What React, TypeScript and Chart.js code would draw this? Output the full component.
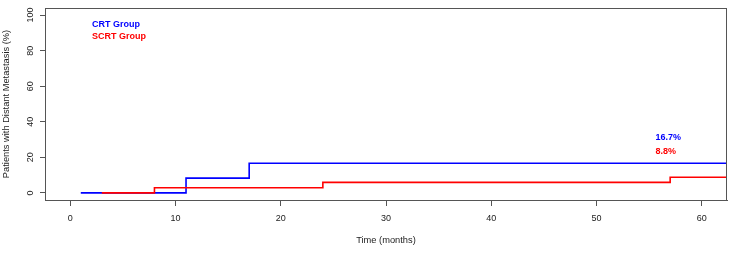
import React, { useEffect, useRef } from "react";
import { Chart, registerables } from "chart.js";

Chart.register(...registerables);

// Cumulative incidence of distant metastasis (step curves)
const crtTimes = [1, 11, 17, 70];
const crtPct = [0, 8.3, 16.7, 16.7];
const scrtTimes = [3, 8, 24, 57, 70];
const scrtPct = [0, 2.9, 5.9, 8.8, 8.8];

const seriesNames = ["CRT Group", "SCRT Group"];
const seriesColors = ["#0000ff", "#ff0000"];
const finalLabels = ["16.7%", "8.8%"];

const xTicks = [0, 10, 20, 30, 40, 50, 60];
const yTicks = [0, 20, 40, 60, 80, 100];

const FONT = "'Liberation Sans', Arial, Helvetica, sans-serif";
const AXIS = "#555555";
const TEXT = "#222222";

const toPoints = (t: number[], v: number[]) => t.map((x, i) => ({ x, y: v[i] }));

// Frame around the plotting region, legend text and end-of-curve labels
const overlay = {
  id: "overlay",
  afterDatasetsDraw(chart: any) {
    const { ctx, chartArea: a, scales } = chart;
    ctx.save();
    ctx.strokeStyle = AXIS;
    ctx.lineWidth = 1;
    ctx.strokeRect(Math.round(a.left) + 0.5, Math.round(a.top) + 0.5, Math.round(a.right - a.left) - 1, Math.round(a.bottom - a.top));

    ctx.font = `bold 9px ${FONT}`;
    ctx.textAlign = "left";
    ctx.textBaseline = "alphabetic";
    seriesNames.forEach((name, i) => {
      ctx.fillStyle = seriesColors[i];
      ctx.fillText(name, a.left + 47, a.top + 19 + i * 12);
    });

    const xl = scales.x.getPixelForValue(55.6);
    finalLabels.forEach((txt, i) => {
      ctx.fillStyle = seriesColors[i];
      ctx.fillText(txt, xl, scales.y.getPixelForValue(i === 0 ? 30 : 22.1));
    });
    ctx.restore();
  },
};

export default function App() {
  const ref = useRef<HTMLCanvasElement>(null);

  useEffect(() => {
    if (!ref.current) return;
    const chart = new Chart(ref.current, {
      type: "line",
      data: {
        datasets: [
          {
            label: seriesNames[0],
            data: toPoints(crtTimes, crtPct),
            borderColor: seriesColors[0],
            borderWidth: 1.6,
            stepped: true,
            pointRadius: 0,
            fill: false,
            order: 2,
          },
          {
            label: seriesNames[1],
            data: toPoints(scrtTimes, scrtPct),
            borderColor: seriesColors[1],
            borderWidth: 1.6,
            stepped: true,
            pointRadius: 0,
            fill: false,
            order: 1,
          },
        ],
      },
      options: {
        animation: false,
        responsive: false,
        layout: { padding: { left: 0, top: 8, right: 23, bottom: 0 } },
        plugins: { legend: { display: false }, tooltip: { enabled: false } },
        scales: {
          x: {
            type: "linear",
            min: -2.4,
            max: 62.4,
            afterBuildTicks: (s: any) => {
              s.ticks = xTicks.map((v) => ({ value: v }));
            },
            afterFit: (s: any) => {
              s.height = 57;
              s.paddingLeft = 0;
              s.paddingRight = 0;
            },
            grid: { drawOnChartArea: false, drawTicks: true, tickLength: 6, tickColor: AXIS, color: AXIS },
            border: { display: true, color: AXIS, width: 1 },
            ticks: {
              color: TEXT,
              padding: 7,
              maxRotation: 0,
              font: { family: FONT, size: 9 },
            },
            title: {
              display: true,
              text: "Time (months)",
              color: TEXT,
              font: { family: FONT, size: 9.3 },
              padding: { top: 0, bottom: 10.5 },
            },
          },
          y: {
            type: "linear",
            min: -4,
            max: 104,
            afterBuildTicks: (s: any) => {
              s.ticks = yTicks.map((v) => ({ value: v }));
            },
            afterFit: (s: any) => {
              s.width = 45;
              s.paddingTop = 0;
              s.paddingBottom = 0;
            },
            grid: { drawOnChartArea: false, drawTicks: true, tickLength: 5, tickColor: AXIS, color: AXIS },
            border: { display: true, color: AXIS, width: 1 },
            ticks: {
              color: TEXT,
              padding: 2,
              minRotation: 90,
              maxRotation: 90,
              crossAlign: "center",
              font: { family: FONT, size: 9 },
            },
            title: {
              display: true,
              text: "Patients with Distant Metastasis (%)",
              color: TEXT,
              font: { family: FONT, size: 9.3 },
              padding: { top: 1, bottom: 0 },
            },
          },
        },
      },
      plugins: [overlay],
    } as any);
    return () => chart.destroy();
  }, []);

  return (
    <div style={{ position: "fixed", left: 0, top: 0, width: 750, height: 257, background: "#fff" }}>
      <canvas ref={ref} width={750} height={257} style={{ width: 750, height: 257 }} />
    </div>
  );
}
